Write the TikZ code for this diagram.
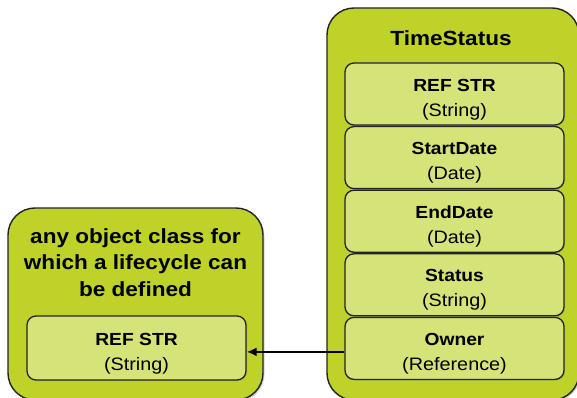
\documentclass[tikz,border=0pt]{standalone}
\usepackage{fontspec}
\setmainfont{Liberation Sans}[FakeStretch=1.1]
\usetikzlibrary{shadows,arrows.meta}
\definecolor{outerfill}{RGB}{190,210,42}
\definecolor{innerfill}{RGB}{214,227,120}
\definecolor{edgecol}{RGB}{35,35,35}
\newcommand\fieldtext[2]{\rule{0pt}{23pt}\bfseries #1\\\fontsize{18}{25}\mdseries\selectfont #2}
\tikzset{
  outerbox/.style={draw=edgecol, line width=1.4pt, fill=outerfill, rounded corners=27pt,
    inner sep=0pt, drop shadow={shadow xshift=1.5pt, shadow yshift=-1.5pt, opacity=0.35}},
  fieldbox/.style={draw=edgecol, line width=1.3pt, fill=innerfill, rounded corners=9pt,
    minimum width=219pt, minimum height=62pt, inner sep=0pt, align=center,
    font=\fontsize{17.5}{25}\selectfont,
    drop shadow={shadow xshift=1pt, shadow yshift=-1pt, opacity=0.3}},
  titletext/.style={font=\fontsize{20.5}{26.5}\selectfont\bfseries, align=center, inner sep=0pt},
  link/.style={line width=2.6pt, -{Latex[length=10pt,width=9pt]}}
}
\begin{document}
\begin{tikzpicture}[x=1pt,y=-1pt]
\useasboundingbox (0,0) rectangle (577,398);
\clip (0,0) rectangle (577,398);
% right class
\node[outerbox, minimum width=252pt, minimum height=392pt] (ts) at (453,204) {};
\node[titletext, anchor=north] (tstitle) at (451,30) {TimeStatus};
\node[fieldbox] (f1) at (454.5,94) {\fieldtext{REF STR}{(String)}};
\node[fieldbox] (f2) at (454.5,157.6) {\fieldtext{StartDate}{(Date)}};
\node[fieldbox] (f3) at (454.5,221.2) {\fieldtext{EndDate}{(Date)}};
\node[fieldbox] (f4) at (454.5,284.8) {\fieldtext{Status}{(String)}};
\node[fieldbox] (f5) at (454.5,348.4) {\fieldtext{Owner}{(Reference)}};
% left class
\node[outerbox, minimum width=255pt, minimum height=192pt] (obj) at (135.5,304) {};
\node[titletext, anchor=north] (objtitle) at (135.5,228) {any object class for\\which a lifecycle can\\be defined};
\node[fieldbox, minimum height=64pt] (lf) at (136.5,348) {\fieldtext{REF STR}{(String)}};
% reference
\draw[link] ([yshift=-3.5pt]f5.west) -- ([yshift=-3.5pt]f5.west -| lf.east);
\end{tikzpicture}
\end{document}
